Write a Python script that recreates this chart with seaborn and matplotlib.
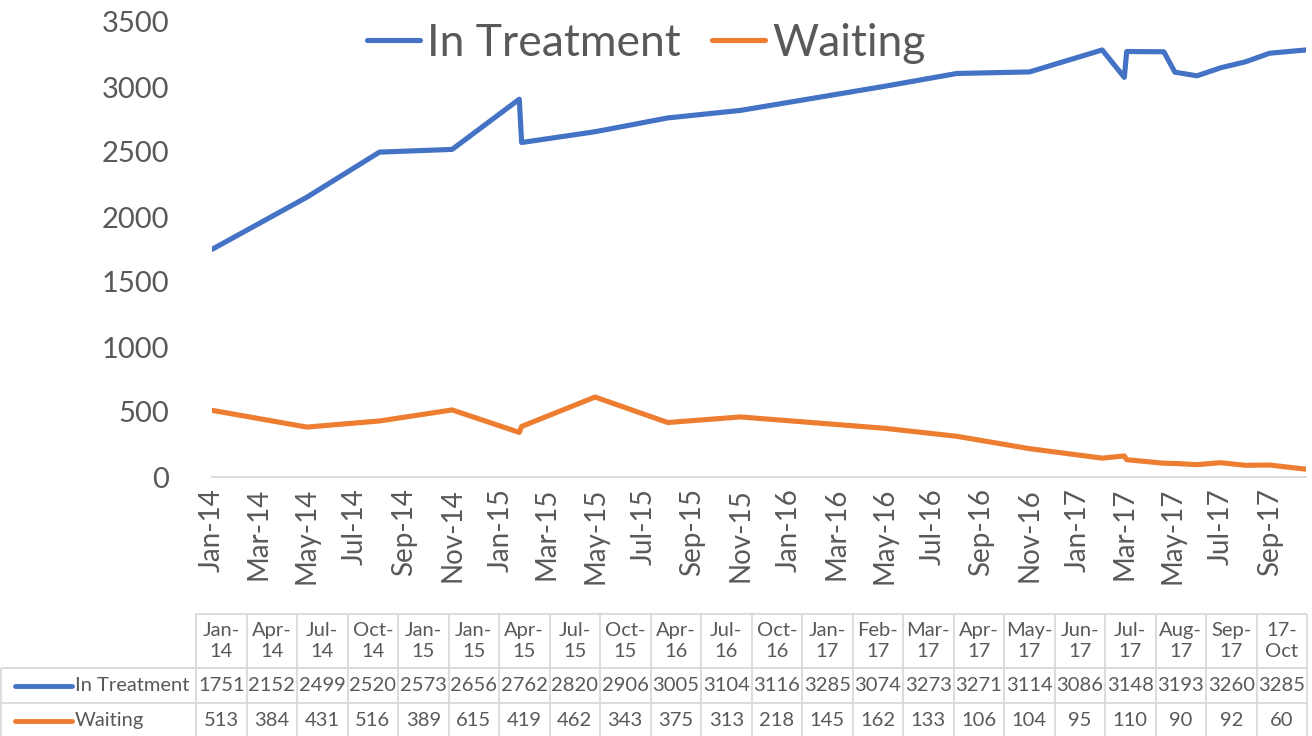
import pandas as pd
import matplotlib
matplotlib.use("Agg")
import matplotlib.pyplot as plt
import matplotlib.dates as mdates
from matplotlib.lines import Line2D
import seaborn as sns

# -------------------------------
# Data (as printed in the data table under the chart)
# -------------------------------
col_labels = ["Jan-14", "Apr-14", "Jul-14", "Oct-14", "Jan-15", "Jan-15", "Apr-15",
              "Jul-15", "Oct-15", "Apr-16", "Jul-16", "Oct-16", "Jan-17", "Feb-17",
              "Mar-17", "Apr-17", "May-17", "Jun-17", "Jul-17", "Aug-17", "Sep-17", "17-Oct"]
in_treatment = [1751, 2152, 2499, 2520, 2573, 2656, 2762, 2820, 2906, 3005, 3104,
                3116, 3285, 3074, 3273, 3271, 3114, 3086, 3148, 3193, 3260, 3285]
waiting = [513, 384, 431, 516, 389, 615, 419, 462, 343, 375, 313,
           218, 145, 162, 133, 106, 104, 95, 110, 90, 92, 60]
# where each point actually sits on the date axis
point_dates = ["2014-01-01", "2014-05-01", "2014-08-01", "2014-11-01", "2015-01-28",
               "2015-05-01", "2015-08-01", "2015-11-01", "2015-01-25", "2016-05-01",
               "2016-08-01", "2016-11-01", "2017-02-01", "2017-03-01", "2017-03-04",
               "2017-04-20", "2017-05-04", "2017-06-01", "2017-07-01", "2017-08-01",
               "2017-09-01", "2017-10-17"]

series_names = ["In Treatment", "Waiting"]
colors = ["#4472C4", "#ED7D31"]
text_grey = "#595959"
line_grey = "#D9D9D9"

df = pd.DataFrame({"date": pd.to_datetime(point_dates),
                   "In Treatment": in_treatment,
                   "Waiting": waiting})
df = df.sort_values("date", kind="stable")
long_df = df.melt(id_vars="date", var_name="series", value_name="count")

# -------------------------------
# Figure
# -------------------------------
sns.set_style("white")
plt.rcParams["font.family"] = ["Lato", "DejaVu Sans"]

W, H = 1312, 736
fig = plt.figure(figsize=(W / 100, H / 100), dpi=100)
ax = fig.add_axes([212 / W, 1 - 477 / H, (1306 - 212) / W, (477 - 22) / H])

sns.lineplot(data=long_df, x="date", y="count", hue="series", hue_order=series_names,
             palette=colors, linewidth=3.7, sort=False, legend=False, ax=ax,
             solid_joinstyle="round")

ax.set_xlim(df["date"].min(), df["date"].max())
ax.set_ylim(0, 3500)
ax.set_yticks(range(0, 3501, 500))
ax.xaxis.set_major_locator(mdates.MonthLocator(bymonth=[1, 3, 5, 7, 9, 11]))
ax.xaxis.set_major_formatter(mdates.DateFormatter("%b-%y"))
ax.tick_params(axis="x", rotation=90, labelsize=20, colors=text_grey, length=0, pad=8)
ax.tick_params(axis="y", labelsize=21, colors=text_grey, length=0, pad=31)
ax.set_xlabel("")
ax.set_ylabel("")
for side in ["left", "top", "right"]:
    ax.spines[side].set_visible(False)
ax.spines["bottom"].set_color(line_grey)
ax.spines["bottom"].set_linewidth(1.3)

handles = [Line2D([], [], color=c, linewidth=3.7) for c in colors]
fig.legend(handles, series_names, loc="center", bbox_to_anchor=(0.4925, 0.941),
           ncol=2, frameon=False, fontsize=32, labelcolor=text_grey,
           handlelength=1.2, handletextpad=0.15, columnspacing=0.7)

# -------------------------------
# Data table under the chart
# -------------------------------
tax = fig.add_axes([0, 0, 1, (H - 614) / H])
tax.set_xlim(0, W)
tax.set_ylim(H - 614, 0)
tax.axis("off")

x0, col_w = 196, 50.5
row_edges = [0, 54, 89, 124]
x_end = x0 + col_w * len(col_labels)
tkw = dict(color=line_grey, linewidth=1.3, clip_on=False)

tax.hlines(row_edges[0], x0, x_end, **tkw)
tax.hlines(row_edges[1:3], 0.5, x_end, **tkw)
for i in range(len(col_labels) + 1):
    tax.vlines(x0 + i * col_w, row_edges[0], row_edges[-1], **tkw)
tax.vlines(0.5, row_edges[1], row_edges[-1], **tkw)

for i, lab in enumerate(col_labels):
    a, b = lab.split("-", 1)
    cx = x0 + (i + 0.5) * col_w
    tax.text(cx, 27, f"{a}-\n{b}", ha="center", va="center", fontsize=14.5,
             linespacing=1.3, color=text_grey, clip_on=False)
    tax.text(cx, 71.5, str(in_treatment[i]), ha="center", va="center",
             fontsize=14.5, color=text_grey, clip_on=False)
    tax.text(cx, 106.5, str(waiting[i]), ha="center", va="center",
             fontsize=14.5, color=text_grey, clip_on=False)

for name, c, cy in zip(series_names, colors, [71.5, 106.5]):
    tax.plot([15, 72], [cy, cy], color=c, linewidth=3.5, solid_capstyle="round",
             clip_on=False)
    tax.text(75, cy, name, ha="left", va="center", fontsize=14.5, color=text_grey,
             clip_on=False)

fig.savefig("out.png", dpi=100)
